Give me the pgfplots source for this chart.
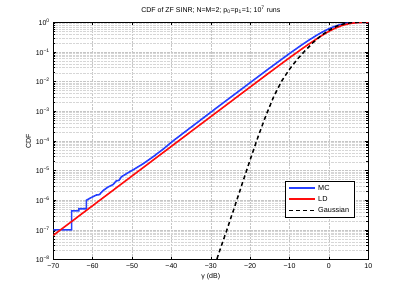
\documentclass[border=0pt]{standalone}
\usepackage{pgfplots}
\pgfplotsset{compat=1.18}
\usepackage{fontspec}
\setmainfont{Liberation Sans}
\definecolor{mcblue}{rgb}{0.15,0.25,1}
\definecolor{ldred}{rgb}{1,0.05,0.05}
\begin{document}
\begin{tikzpicture}
\path[use as bounding box] (-53.3pt,-32pt) rectangle (353.7pt,259.6pt);
\begin{axis}[
  scale only axis, width=315pt, height=237.3pt,
  ymode=log, xmin=-70, xmax=10, ymin=1e-8, ymax=1,
  font=\fontsize{7}{8.5}\selectfont,
  xtick={-70,-60,...,10},
  xticklabels={−70,−60,−50,−40,−30,−20,−10,0,10},
  ytick={1e-8,1e-7,1e-6,1e-5,1e-4,1e-3,1e-2,1e-1,1},
  yticklabels={10\textsuperscript{−8},10\textsuperscript{−7},10\textsuperscript{−6},10\textsuperscript{−5},10\textsuperscript{−4},10\textsuperscript{−3},10\textsuperscript{−2},10\textsuperscript{−1},10\textsuperscript{0}},
  tick align=inside, tickpos=both,
  major tick length=3pt, minor tick length=1.8pt,
  tick style={black, line width=0.4pt},
  grid=both,
  major grid style={densely dotted, gray!45, line width=0.35pt},
  minor grid style={densely dotted, gray!32, line width=0.35pt},
  axis line style={black, line width=0.5pt},
  title={CDF of ZF SINR; N=M=2; p\textsubscript{0}=p\textsubscript{1}=1; 10\textsuperscript{7} runs},
  title style={yshift=-1pt},
  xlabel={γ (dB)}, ylabel={CDF},
  xlabel style={yshift=2pt}, ylabel style={yshift=-2pt},
  legend style={at={(0.9555,0.33)}, anchor=north east, draw=black,
    font=\fontsize{7.3}{8.5}\selectfont, row sep=0.6pt, inner xsep=3pt, inner ysep=1.5pt, fill=white},
  legend cell align=left,
  legend image code/.code={\draw[#1] plot coordinates {(0pt,0.2pt) (13pt,0.2pt) (26pt,0.2pt)};},
]
\addplot[mcblue, line width=1.6pt] coordinates {
(-70,1e-7) (-65.35,1e-7) (-65.35,4.4e-7) (-63.5,4.4e-7) (-63.5,5.2e-7) (-61.6,5.2e-7)
(-61.6,1.0e-6) (-60.8,1.15e-6) (-59.1,1.5e-6) (-58.3,1.55e-6) (-57.4,2.1e-6)
(-56.1,2.8e-6) (-54.8,3.4e-6) (-54,4.5e-6) (-53.3,4.7e-6) (-52.7,6.2e-6) (-51,8.5e-6)
(-49.3,1.15e-5) (-47.2,1.7e-5) (-44.7,2.9e-5) (-42.1,5.3e-5)
(-39.6,1.0e-4) (-36.2,2.2e-4) (-30,9.3e-4) (-20,0.00926) (-15,0.02898) (-10,0.0888)
(-7,0.1693) (-5,0.2547) (-3,0.3728) (-2,0.4437) (-1,0.5226) (0,0.6055) (1,0.6899)
(2,0.7711) (3,0.8435) (4,0.9033) (5,0.9471) (6,0.9753) (7,0.9905) (8,0.9971) (10,0.9999)
};
\addlegendentry{MC}
\addplot[color=ldred, line width=1.6pt] coordinates {
(-70,6.6e-8) (-60,6.6e-7) (-50,6.6e-6) (-40,6.6e-5) (-30,6.598e-4)
(-20,0.006578) (-15,0.02065) (-10,0.06387) (-7,0.1234) (-5,0.1884)
(-3,0.2816) (-2,0.3430) (-1,0.4150) (0,0.495) (1,0.580) (2,0.667) (3,0.752)
(4,0.828) (5,0.890) (6,0.936) (7,0.968) (8,0.986) (9,0.995) (10,0.9987)
};
\addlegendentry{LD}
\addplot[black, line width=1.5pt, dash pattern=on 4pt off 3pt] coordinates {
(-29,6.3e-9) (-28,1.58e-8) (-26,9.3e-8) (-24,5.75e-7) (-22,3.7e-6)
(-20,2.34e-5) (-18,1.38e-4) (-16,7.2e-4) (-14,3.16e-3) (-12,0.01047)
(-10,0.0263) (-8,0.0575) (-6,0.1122) (-4,0.2089) (-2,0.3548) (0,0.537)
(2,0.741) (4,0.902) (6,0.985) (8,0.999) (10,1)
};
\addlegendentry{Gaussian}
\end{axis}
\end{tikzpicture}
\end{document}
